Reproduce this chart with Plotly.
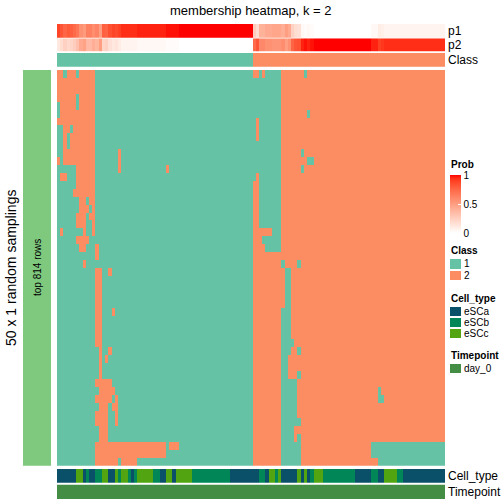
import plotly.graph_objects as go

W = H = 504

# ---------------- data ----------------
N_COLS = 121
N_ROWS = 50

# consensus class of each column (runs, left to right)
class_runs = [("1", 61), ("2", 60)]

# Cell_type annotation (runs, left to right)
celltype_runs = [("eSCa", 6), ("eSCc", 2), ("eSCa", 1), ("eSCb", 1), ("eSCa", 2), ("eSCb", 2),
                 ("eSCc", 2), ("eSCa", 2), ("eSCc", 1), ("eSCb", 1), ("eSCc", 2), ("eSCb", 1),
                 ("eSCa", 1), ("eSCb", 1), ("eSCc", 5), ("eSCb", 2), ("eSCa", 2), ("eSCc", 2),
                 ("eSCa", 1), ("eSCc", 5), ("eSCb", 12), ("eSCa", 9), ("eSCb", 2), ("eSCa", 1),
                 ("eSCc", 2), ("eSCb", 1), ("eSCc", 1), ("eSCa", 5), ("eSCc", 1), ("eSCa", 1),
                 ("eSCc", 1), ("eSCa", 1), ("eSCb", 1), ("eSCc", 3), ("eSCb", 10), ("eSCa", 5),
                 ("eSCb", 2), ("eSCa", 2), ("eSCc", 4), ("eSCb", 2), ("eSCa", 13)]

# Timepoint annotation
timepoint_runs = [("day_0", 121)]

# membership probabilities (top annotation)
p1 = [
    0.88, 0.82, 0.76, 0.80, 0.78, 0.74, 0.68, 0.56, 0.52, 0.64,
    0.64, 0.58, 0.62, 0.50, 0.78, 0.76, 0.84, 0.88, 0.86, 0.90,
    0.94, 0.94, 0.94, 0.94, 0.94, 0.96, 0.96, 0.96, 0.96, 0.96,
    0.96, 0.96, 0.96, 0.96, 0.98, 0.98, 0.98, 0.98, 1.00, 1.00,
    1.00, 1.00, 1.00, 1.00, 1.00, 1.00, 1.00, 1.00, 1.00, 1.00,
    1.00, 1.00, 1.00, 1.00, 1.00, 1.00, 1.00, 1.00, 1.00, 1.00,
    1.00, 0.26, 0.18, 0.40, 0.40, 0.44, 0.44, 0.46, 0.46, 0.46,
    0.42, 0.50, 0.44, 0.24, 0.18, 0.16, 0.04, 0.02, 0.04, 0.02,
    0.00, 0.00, 0.00, 0.00, 0.00, 0.00, 0.00, 0.00, 0.00, 0.00,
    0.00, 0.00, 0.00, 0.00, 0.00, 0.00, 0.00, 0.00, 0.04, 0.04,
    0.10, 0.08, 0.06, 0.06, 0.06, 0.06, 0.06, 0.06, 0.06, 0.06,
    0.06, 0.06, 0.06, 0.06, 0.06, 0.06, 0.06, 0.06, 0.06, 0.06,
    0.06,
]
p2 = [
    0.12, 0.18, 0.24, 0.20, 0.22, 0.26, 0.32, 0.44, 0.48, 0.36,
    0.36, 0.42, 0.38, 0.50, 0.22, 0.24, 0.16, 0.12, 0.14, 0.10,
    0.06, 0.06, 0.06, 0.06, 0.06, 0.04, 0.04, 0.04, 0.04, 0.04,
    0.04, 0.04, 0.04, 0.04, 0.02, 0.02, 0.02, 0.02, 0.00, 0.00,
    0.00, 0.00, 0.00, 0.00, 0.00, 0.00, 0.00, 0.00, 0.00, 0.00,
    0.00, 0.00, 0.00, 0.00, 0.00, 0.00, 0.00, 0.00, 0.00, 0.00,
    0.00, 0.74, 0.82, 0.60, 0.60, 0.56, 0.56, 0.54, 0.54, 0.54,
    0.58, 0.50, 0.56, 0.76, 0.82, 0.84, 0.96, 0.98, 0.96, 0.98,
    1.00, 1.00, 1.00, 1.00, 1.00, 1.00, 1.00, 1.00, 1.00, 1.00,
    1.00, 1.00, 1.00, 1.00, 1.00, 1.00, 1.00, 1.00, 0.96, 0.96,
    0.90, 0.92, 0.94, 0.94, 0.94, 0.94, 0.94, 0.94, 0.94, 0.94,
    0.94, 0.94, 0.94, 0.94, 0.94, 0.94, 0.94, 0.94, 0.94, 0.94,
    0.94,
]

# for each of the 50 random samplings: columns whose class differs from the consensus
row_flips = [
    "0-1,3-5,7-11,63,65-69,77",
    "0-11,61-69",
    "0-11,61-69",
    "0-5,7-11,61-69",
    "1-5,7-11,61-69",
    "1-11,61-69,78",
    "0-11,61,63-69",
    "2-3,5-11,61,63-69",
    "2,4-11,61,63-69",
    "2,4-11,61-69",
    "2-11,19,61-69,76",
    "0,2-11,19,61-69,78-79",
    "6-11,19,34,61-69,76",
    "1-2,6-11,61,63-69",
    "6-11,63-69",
    "5-11,63-69",
    "7-8,10-11,63-69",
    "7-9,11,63-69",
    "6-8,10-11,63-69",
    "6-8,11,63-69",
    "1,8,11,67-69",
    "6-9,64-69",
    "7-8,12,65-69",
    "12",
    "8,70,75",
    "12-13,16,71-72",
    "12-13,71-72",
    "12-13,71-72",
    "12-13,71-72",
    "12-13,71-72",
    "12-13,17,70-72",
    "12-13,70-72",
    "12-13,70-72",
    "12-13,70-72",
    "12-13,70-73",
    "13,16,70-72,75",
    "13,15,70-71",
    "13,70-71",
    "13,70-71,75",
    "12-16,70-74",
    "13-17,70-74,100",
    "12-16,18,70-74,100-101",
    "13-15,17-18,70-74",
    "12-15,18,70-74",
    "12-15,18,70-75",
    "13-15,70-73",
    "13-15,70-73,75",
    "12-33,35-37,70-75,98-120",
    "12-33,70-75,98-120",
    "12-18,20-24,70-75,100-120",
]

class_levels = ["1", "2"]
celltype_levels = ["eSCa", "eSCb", "eSCc"]
timepoint_levels = ["day_0"]

# ---------------- styles ----------------
CLASS_COLORS = ["#66C2A5", "#FC8D62"]
CELL_COLORS = ["#0A5068", "#008657", "#52A511"]
TIME_COLORS = ["#438D44"]
SIDE_COLOR = "#7FC97F"
PROB_SCALE = [[0.0, "#FFFFFF"], [0.05, "#FFF6F2"], [0.1, "#FFECE5"], [0.25, "#FFCFBF"],
              [0.5, "#FF9E81"], [0.75, "#FF6847"], [0.9, "#FF4023"], [0.95, "#FF2B14"],
              [1.0, "#FF0000"]]
FONT = "Liberation Sans, Arial, Helvetica, sans-serif"


def expand(runs):
    out = []
    for lab, n in runs:
        out.extend([lab] * n)
    return out


def parse(spec):
    cols = set()
    for part in spec.split(","):
        part = part.strip()
        if not part:
            continue
        if "-" in part:
            a, b = part.split("-")
            cols.update(range(int(a), int(b) + 1))
        else:
            cols.add(int(part))
    return cols


def discrete_scale(colors):
    n = len(colors)
    sc = []
    for i, c in enumerate(colors):
        sc.append([i / n, c])
        sc.append([(i + 1) / n, c])
    return sc


consensus = expand(class_runs)
celltype = expand(celltype_runs)
timepoint = expand(timepoint_runs)
cols = list(range(N_COLS))

matrix = []
for spec in row_flips:
    fl = parse(spec)
    row = []
    for j, c in enumerate(consensus):
        k = class_levels.index(c)
        if j in fl:
            k = 1 - k
        row.append(k)
    matrix.append(row)

def fy(px):
    return 1 - px / H

def fx(px):
    return px / W

X0, X1 = 57, 445

fig = go.Figure()

common = dict(hoverinfo="skip", xgap=0, ygap=0)

# main membership heatmap
fig.add_trace(go.Heatmap(z=matrix, x=cols, y=list(range(N_ROWS)),
                         colorscale=discrete_scale(CLASS_COLORS), zmin=-0.5, zmax=1.5,
                         showscale=False, xaxis="x", yaxis="y", **common))
# p1
fig.add_trace(go.Heatmap(z=[p1], x=cols, y=[0], colorscale=PROB_SCALE, zmin=0, zmax=1,
                         showscale=True, xaxis="x", yaxis="y2",
                         colorbar=dict(x=fx(450), xanchor="left", xref="paper",
                                       y=fy(175), yanchor="top", yref="paper",
                                       lenmode="pixels", len=58,
                                       thicknessmode="pixels", thickness=11,
                                       outlinewidth=0, xpad=0, ypad=0,
                                       tickvals=[0, 0.5, 1], ticktext=["0", "0.5", "1"],
                                       ticks="inside", ticklen=3, tickcolor="white",
                                       tickfont=dict(size=10, family=FONT, color="black")),
                         **common))
# p2
fig.add_trace(go.Heatmap(z=[p2], x=cols, y=[0], colorscale=PROB_SCALE, zmin=0, zmax=1,
                         showscale=False, xaxis="x", yaxis="y3", **common))
# Class annotation
fig.add_trace(go.Heatmap(z=[[class_levels.index(c) for c in consensus]], x=cols, y=[0],
                         colorscale=discrete_scale(CLASS_COLORS), zmin=-0.5, zmax=1.5,
                         showscale=False, xaxis="x", yaxis="y4", **common))
# Cell_type annotation
fig.add_trace(go.Heatmap(z=[[celltype_levels.index(c) for c in celltype]], x=cols, y=[0],
                         colorscale=discrete_scale(CELL_COLORS), zmin=-0.5, zmax=2.5,
                         showscale=False, xaxis="x", yaxis="y5", **common))
# Timepoint annotation
fig.add_trace(go.Heatmap(z=[[timepoint_levels.index(c) for c in timepoint]], x=cols, y=[0],
                         colorscale=discrete_scale(TIME_COLORS), zmin=-0.5, zmax=0.5,
                         showscale=False, xaxis="x", yaxis="y6", **common))
# left row-split bar
fig.add_trace(go.Heatmap(z=[[0]], x=[0], y=[0], colorscale=[[0, SIDE_COLOR], [1, SIDE_COLOR]],
                         showscale=False, xaxis="x2", yaxis="y7", **common))
# legend keys
fig.add_trace(go.Heatmap(z=[[0], [1]], x=[0], y=[0, 1],
                         colorscale=discrete_scale(CLASS_COLORS), zmin=-0.5, zmax=1.5,
                         showscale=False, xaxis="x3", yaxis="y8", hoverinfo="skip", ygap=2))
fig.add_trace(go.Heatmap(z=[[0], [1], [2]], x=[0], y=[0, 1, 2],
                         colorscale=discrete_scale(CELL_COLORS), zmin=-0.5, zmax=2.5,
                         showscale=False, xaxis="x3", yaxis="y9", hoverinfo="skip", ygap=2))
fig.add_trace(go.Heatmap(z=[[0]], x=[0], y=[0],
                         colorscale=discrete_scale(TIME_COLORS), zmin=-0.5, zmax=0.5,
                         showscale=False, xaxis="x3", yaxis="y10", hoverinfo="skip", ygap=2))

hid = dict(visible=False, showgrid=False, zeroline=False, fixedrange=True)

def yax(top, bottom, rng, anchor="x"):
    return dict(domain=[fy(bottom), fy(top)], range=rng, anchor=anchor, **hid)

fig.update_layout(
    width=W, height=H,
    margin=dict(l=0, r=0, t=0, b=0, pad=0),
    paper_bgcolor="white", plot_bgcolor="white",
    font=dict(family=FONT, color="black"),
    showlegend=False,
    xaxis=dict(domain=[fx(X0), fx(X1)], range=[-0.5, N_COLS - 0.5], anchor="y", **hid),
    xaxis2=dict(domain=[fx(23), fx(51)], range=[-0.5, 0.5], anchor="y7", **hid),
    xaxis3=dict(domain=[fx(450), fx(461)], range=[-0.5, 0.5], anchor="y8", **hid),
    yaxis=yax(70, 465.7, [N_ROWS - 0.5, -0.5]),
    yaxis2=yax(24, 37.7, [-0.5, 0.5]),
    yaxis3=yax(38.3, 51.7, [-0.5, 0.5]),
    yaxis4=yax(53, 66.7, [-0.5, 0.5]),
    yaxis5=yax(469, 482.7, [-0.5, 0.5]),
    yaxis6=yax(484.5, 499, [-0.5, 0.5]),
    yaxis7=yax(70, 465.7, [-0.5, 0.5], anchor="x2"),
    yaxis8=yax(258, 281, [1.5, -0.5], anchor="x3"),
    yaxis9=yax(306, 339, [2.5, -0.5], anchor="x3"),
    yaxis10=yax(363, 374, [0.5, -0.5], anchor="x3"),
)

ann = []

def text(x, y, s, size, xanchor="left", angle=0, bold=False):
    ann.append(dict(x=fx(x), y=fy(y), xref="paper", yref="paper", text=("<b>%s</b>" % s) if bold else s,
                    showarrow=False, xanchor=xanchor, yanchor="middle", textangle=angle,
                    font=dict(size=size, family=FONT, color="black"), borderpad=0))

text(251, 10, "membership heatmap, k = 2", 13, xanchor="center")
text(447, 31, "p1", 12)
text(447, 45, "p2", 12)
text(447, 60, "Class", 12)
text(447, 476, "Cell_type", 12)
text(447, 492, "Timepoint", 12)
text(11, 268, "50 x 1 random samplings", 14, xanchor="center", angle=-90)
text(37, 268, "top 814 rows", 10, xanchor="center", angle=-90)

text(450, 165, "Prob", 10, bold=True)
text(450, 250, "Class", 10, bold=True)
for i, lab in enumerate(class_levels):
    text(463, 258 + 11.5 * i + 5.75, lab, 10)
text(450, 298, "Cell_type", 10, bold=True)
for i, lab in enumerate(celltype_levels):
    text(463, 306 + 11 * i + 5.5, lab, 10)
text(450, 355, "Timepoint", 10, bold=True)
for i, lab in enumerate(timepoint_levels):
    text(463, 363 + 11 * i + 5.5, lab, 10)

fig.update_layout(annotations=ann)

fig.write_html("out.html", config={"displayModeBar": False},
               post_script="document.body.style.margin='0px';document.body.style.padding='0px';")
